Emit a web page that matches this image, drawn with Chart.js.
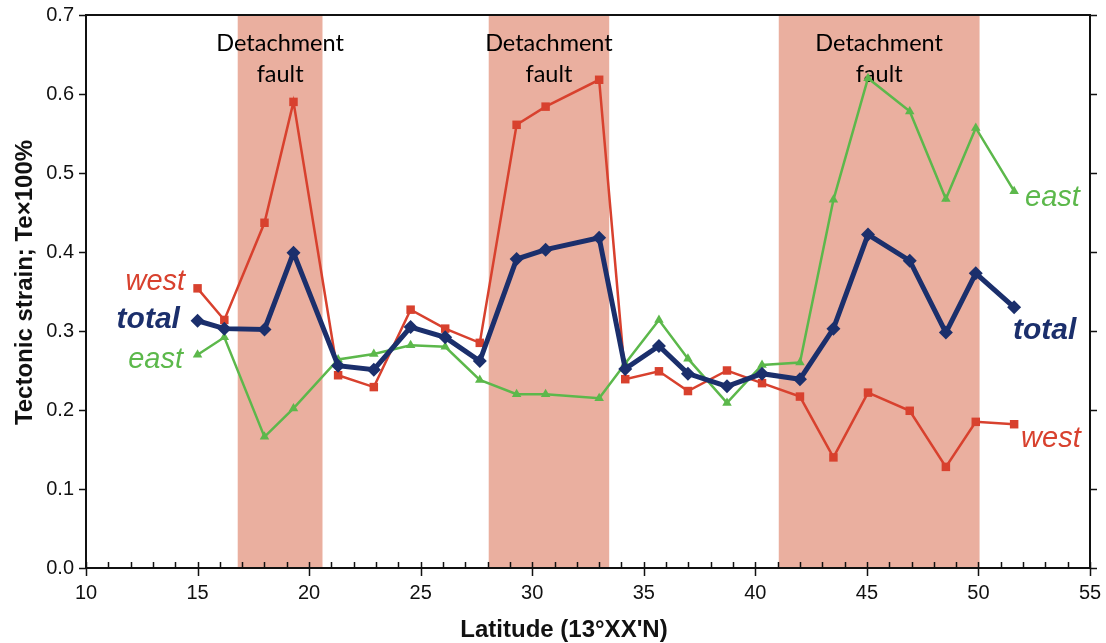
<!DOCTYPE html>
<html>
<head>
<meta charset="utf-8">
<script src="https://cdn.jsdelivr.net/npm/chart.js@4/dist/chart.umd.min.js"></script>
<style>
  html, body { margin: 0; padding: 0; background: #fff; }
  #wrap { width: 1106px; height: 643px; }
</style>
</head>
<body>
<div id="wrap"><canvas id="chart" width="1106" height="643"></canvas></div>
<script>
// latitude of each sample (13°XX'N), shared by all three series
const latitude = [15, 16.2, 18.0, 19.3, 21.3, 22.9, 24.55, 26.1, 27.65, 29.3, 30.6, 33.0,
  34.17, 35.68, 36.98, 38.73, 40.3, 42.0, 43.5, 45.05, 46.92, 48.54, 49.88, 51.6];

const west = [0.354, 0.314, 0.437, 0.590, 0.244, 0.229, 0.327, 0.303, 0.285, 0.561, 0.584, 0.618,
  0.239, 0.249, 0.224, 0.250, 0.234, 0.217, 0.140, 0.222, 0.199, 0.128, 0.185, 0.182];
const total = [0.313, 0.303, 0.302, 0.399, 0.256, 0.251, 0.305, 0.292, 0.262, 0.391, 0.403, 0.418,
  0.252, 0.281, 0.246, 0.230, 0.246, 0.239, 0.303, 0.422, 0.389, 0.298, 0.373, 0.330];
const east = [0.270, 0.292, 0.166, 0.202, 0.264, 0.271, 0.282, 0.280, 0.238, 0.220, 0.220, 0.215,
  0.259, 0.314, 0.265, 0.209, 0.257, 0.260, 0.466, 0.620, 0.578, 0.467, 0.557, 0.477];

// detachment fault zones, [start, end] latitude
const faultZones = [[16.8, 20.6], [28.05, 33.45], [41.05, 50.05]];
const faultLabel = ['Detachment', 'fault'];

const RED = '#d8412e', NAVY = '#1b2f6c', GREEN = '#5cb84b', BAND = '#eaaf9f';

const pts = (ys) => ys.map((y, i) => ({ x: latitude[i], y: y }));

// series names written beside the line ends (data coords)
const seriesTags = [
  { text: 'west', x: 14.44, y: 0.362, align: 'right', color: RED, font: 'italic 29px "Liberation Sans"' },
  { text: 'total', x: 14.21, y: 0.314, align: 'right', color: NAVY, font: 'italic bold 30px "Liberation Sans"' },
  { text: 'east', x: 14.35, y: 0.263, align: 'right', color: GREEN, font: 'italic 29px "Liberation Sans"' },
  { text: 'east', x: 52.09, y: 0.468, align: 'left', color: GREEN, font: 'italic 29px "Liberation Sans"' },
  { text: 'total', x: 51.55, y: 0.300, align: 'left', color: NAVY, font: 'italic bold 30px "Liberation Sans"' },
  { text: 'west', x: 51.91, y: 0.163, align: 'left', color: RED, font: 'italic 29px "Liberation Sans"' }
];

const decor = {
  id: 'decor',
  beforeDatasetsDraw(chart) {
    const { ctx, chartArea: a, scales: { x } } = chart;
    ctx.save();
    ctx.fillStyle = BAND;
    faultZones.forEach(([s, e]) => {
      const x0 = x.getPixelForValue(s), x1 = x.getPixelForValue(e);
      ctx.fillRect(x0, a.top, x1 - x0, a.bottom - a.top);
    });
    ctx.fillStyle = '#000';
    ctx.font = '23.5px Lato';
    ctx.textAlign = 'center';
    ctx.textBaseline = 'middle';
    faultZones.forEach(([s, e]) => {
      const cx = x.getPixelForValue((s + e) / 2);
      ctx.fillText(faultLabel[0], cx, a.top + 28);
      ctx.fillText(faultLabel[1], cx, a.top + 59);
    });
    ctx.restore();
  },
  afterDraw(chart) {
    const { ctx, chartArea: a, scales: { x, y } } = chart;
    ctx.save();
    // frame
    ctx.strokeStyle = '#111';
    ctx.lineWidth = 2;
    ctx.strokeRect(a.left, a.top, a.right - a.left, a.bottom - a.top);
    // x ticks: minor inside, major crossing
    ctx.lineWidth = 1.5;
    ctx.beginPath();
    for (let v = x.min; v <= x.max; v++) {
      const px = Math.round(x.getPixelForValue(v)) + 0.5;
      const major = v % 5 === 0;
      ctx.moveTo(px, a.bottom - 6);
      ctx.lineTo(px, a.bottom + (major ? 8 : 0));
    }
    // y ticks, outside on both sides
    for (let v = 0; v <= 0.7001; v += 0.1) {
      const py = Math.round(y.getPixelForValue(v)) + 0.5;
      ctx.moveTo(a.left - 7, py);
      ctx.lineTo(a.left, py);
      ctx.moveTo(a.right, py);
      ctx.lineTo(a.right + 7, py);
    }
    ctx.stroke();

    // series tags
    ctx.textBaseline = 'middle';
    seriesTags.forEach(t => {
      ctx.font = t.font;
      ctx.fillStyle = t.color;
      ctx.textAlign = t.align;
      ctx.fillText(t.text, x.getPixelForValue(t.x), y.getPixelForValue(t.y));
    });

    // axis titles
    ctx.fillStyle = '#111';
    ctx.font = 'bold 24px "Liberation Sans"';
    ctx.textAlign = 'center';
    ctx.fillText("Latitude (13\u00b0XX'N)", 564, 630);
    ctx.translate(25, (a.top + a.bottom) / 2 - 9);
    ctx.rotate(-Math.PI / 2);
    ctx.fillText('Tectonic strain; Te\u00d7100%', 0, 0);
    ctx.restore();
  }
};

new Chart(document.getElementById('chart'), {
  type: 'line',
  data: {
    datasets: [
      {
        label: 'total', data: pts(total), order: 0,
        borderColor: NAVY, backgroundColor: NAVY, borderWidth: 5,
        pointStyle: 'rectRot', pointRadius: 7, pointBorderWidth: 0
      },
      {
        label: 'east', data: pts(east), order: 1,
        borderColor: GREEN, backgroundColor: GREEN, borderWidth: 2.5,
        pointStyle: 'triangle', pointRadius: 5.5, pointBorderWidth: 0
      },
      {
        label: 'west', data: pts(west), order: 2,
        borderColor: RED, backgroundColor: RED, borderWidth: 2.5,
        pointStyle: 'rect', pointRadius: 6, pointBorderWidth: 0
      }
    ]
  },
  options: {
    responsive: false,
    animation: false,
    layout: { padding: { left: 0, right: 16, top: 15, bottom: 0 } },
    plugins: { legend: { display: false }, tooltip: { enabled: false } },
    elements: { line: { tension: 0 } },
    scales: {
      x: {
        type: 'linear', min: 10, max: 55,
        afterFit(s) { s.height = 75; s.paddingLeft = 0; s.paddingRight = 0; },
        grid: { display: false, drawTicks: false },
        border: { display: false },
        ticks: { stepSize: 5, padding: 13, color: '#111', font: { family: 'Liberation Sans', size: 20 } }
      },
      y: {
        min: 0, max: 0.7,
        afterFit(s) { s.width = 86; s.paddingTop = 0; s.paddingBottom = 0; },
        grid: { display: false, drawTicks: false },
        border: { display: false },
        ticks: {
          stepSize: 0.1, padding: 12, color: '#111',
          font: { family: 'Liberation Sans', size: 20 },
          callback: v => v.toFixed(1)
        }
      }
    }
  },
  plugins: [decor]
});
</script>
</body>
</html>
